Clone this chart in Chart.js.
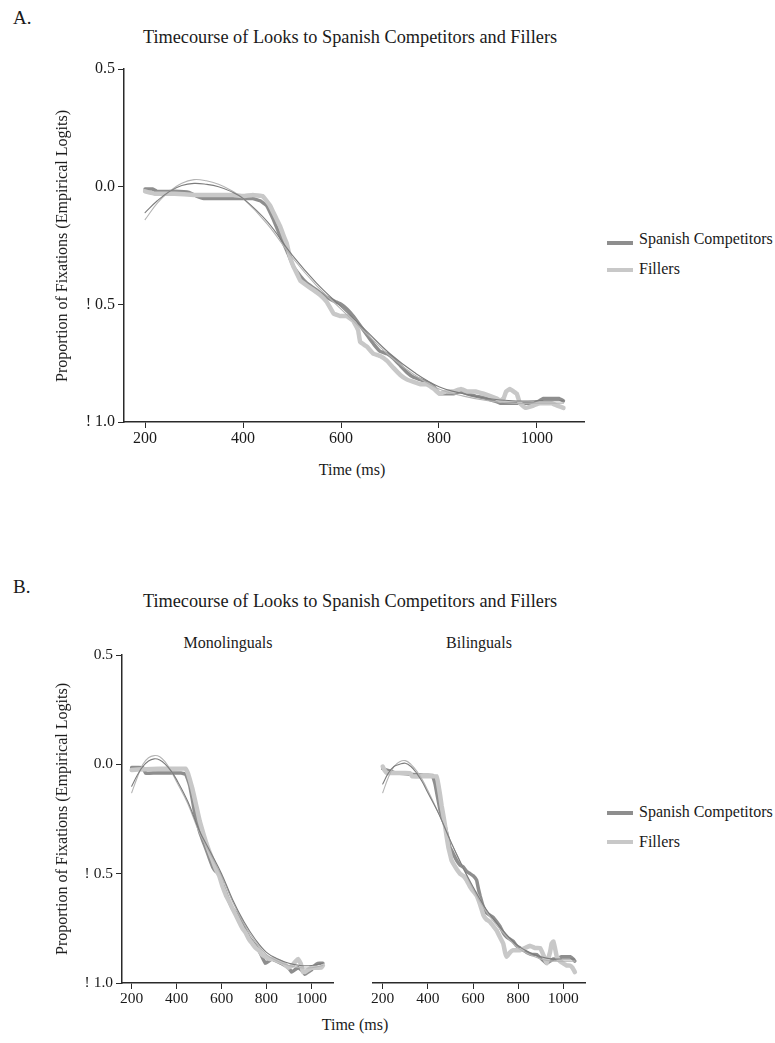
<!DOCTYPE html>
<html><head><meta charset="utf-8">
<script src="https://cdn.jsdelivr.net/npm/chart.js@4.4.1/dist/chart.umd.min.js"></script>
<style>
html,body{margin:0;padding:0;background:#fff}
body{width:775px;height:1043px;position:relative;overflow:hidden;font-family:'Liberation Serif','Times New Roman',serif;color:#1a1a1a}
.t{position:absolute;white-space:nowrap;line-height:1}
canvas{position:absolute}
.yt{position:absolute;white-space:nowrap;line-height:1;font-size:16px;transform:translate(-50%,-50%) rotate(-90deg)}
.ct{position:absolute;white-space:nowrap;line-height:1;transform:translateX(-50%)}
.sw{position:absolute;height:4px;width:26px}
</style></head><body>
<div class="t" style="left:13px;top:8px;font-size:19px">A.</div>
<div class="ct" style="left:350px;top:28px;font-size:18.3px">Timecourse of Looks to Spanish Competitors and Fillers</div>
<canvas id="cA" width="546" height="397" style="left:54px;top:55px;width:546px;height:397px"></canvas>
<div class="yt" style="left:62px;top:246px">Proportion of Fixations (Empirical Logits)</div>
<div class="ct" style="left:352px;top:462px;font-size:16px">Time (ms)</div>
<div class="sw" style="left:607px;top:241px;background:#8e8e8e"></div>
<div class="t" style="left:639px;top:231px;font-size:16px" id="legA1"></div>
<div class="sw" style="left:607px;top:268px;background:#c8c8c8"></div>
<div class="t" style="left:639px;top:261px;font-size:16px" id="legA2"></div>

<div class="t" style="left:13px;top:577px;font-size:19px">B.</div>
<div class="ct" style="left:350px;top:592px;font-size:18.3px">Timecourse of Looks to Spanish Competitors and Fillers</div>
<div class="ct" style="left:228px;top:635px;font-size:16px">Monolinguals</div>
<div class="ct" style="left:479px;top:635px;font-size:16px">Bilinguals</div>
<canvas id="cB1" width="286" height="375" style="left:51px;top:640px;width:286px;height:375px"></canvas>
<canvas id="cB2" width="232" height="375" style="left:363px;top:640px;width:232px;height:375px"></canvas>
<div class="yt" style="left:62px;top:819px">Proportion of Fixations (Empirical Logits)</div>
<div class="ct" style="left:355px;top:1017px;font-size:16px">Time (ms)</div>
<div class="sw" style="left:607px;top:811px;background:#8e8e8e"></div>
<div class="t" style="left:639px;top:804px;font-size:16px" id="legB1"></div>
<div class="sw" style="left:607px;top:840px;background:#c8c8c8"></div>
<div class="t" style="left:639px;top:834px;font-size:16px" id="legB2"></div>

<script>
const timeTicks = [200, 400, 600, 800, 1000];
const logitTicks = [0.5, 0, -0.5, -1];
const logitTickLabels = ['0.5', '0.0', '! 0.5', '! 1.0'];
const seriesNames = ['Spanish Competitors', 'Fillers'];

// Panel A (all participants)
const aComp = [[200,-0.01],[215,-0.01],[225,-0.02],[260,-0.02],[290,-0.025],[305,-0.04],[320,-0.05],[360,-0.05],[400,-0.05],[420,-0.05],[435,-0.06],[448,-0.08],[462,-0.14],[476,-0.21],[489,-0.27],[503,-0.34],[517,-0.38],[530,-0.41],[544,-0.43],[557,-0.45],[571,-0.47],[580,-0.48],[590,-0.49],[600,-0.50],[612,-0.52],[625,-0.55],[639,-0.59],[653,-0.63],[667,-0.67],[680,-0.70],[694,-0.71],[707,-0.73],[721,-0.76],[735,-0.79],[748,-0.81],[762,-0.82],[775,-0.83],[790,-0.85],[801,-0.88],[815,-0.88],[830,-0.88],[845,-0.87],[857,-0.88],[875,-0.89],[898,-0.90],[912,-0.91],[925,-0.92],[940,-0.92],[959,-0.92],[975,-0.92],[993,-0.92],[1005,-0.91],[1013,-0.90],[1025,-0.90],[1034,-0.90],[1045,-0.90],[1054,-0.91]];
const aFill = [[200,-0.02],[220,-0.03],[260,-0.03],[300,-0.035],[340,-0.035],[380,-0.035],[400,-0.04],[420,-0.035],[440,-0.04],[448,-0.06],[455,-0.08],[462,-0.11],[469,-0.14],[476,-0.17],[483,-0.21],[489,-0.24],[496,-0.30],[503,-0.34],[510,-0.37],[517,-0.40],[530,-0.42],[544,-0.44],[557,-0.46],[571,-0.49],[585,-0.54],[598,-0.55],[612,-0.55],[625,-0.57],[635,-0.61],[639,-0.66],[653,-0.68],[666,-0.71],[680,-0.72],[694,-0.74],[707,-0.77],[721,-0.80],[735,-0.82],[748,-0.83],[762,-0.84],[775,-0.84],[790,-0.86],[801,-0.88],[815,-0.87],[830,-0.87],[845,-0.86],[857,-0.87],[875,-0.87],[891,-0.88],[905,-0.89],[918,-0.90],[925,-0.91],[932,-0.90],[937,-0.87],[945,-0.86],[952,-0.87],[959,-0.88],[965,-0.92],[976,-0.94],[993,-0.93],[1005,-0.92],[1020,-0.92],[1030,-0.92],[1041,-0.93],[1054,-0.94]];
const aCompFit = [[200,-0.11],[225,-0.06],[250,-0.02],[275,0.005],[300,0.014],[325,0.01],[350,0.0],[375,-0.02],[400,-0.05],[450,-0.15],[500,-0.29],[550,-0.41],[600,-0.51],[650,-0.61],[700,-0.71],[750,-0.79],[800,-0.85],[850,-0.88],[900,-0.90],[950,-0.91],[1000,-0.91],[1054,-0.91]];
const aFillFit = [[200,-0.14],[225,-0.07],[250,-0.02],[275,0.015],[300,0.03],[325,0.025],[350,0.01],[375,-0.015],[400,-0.05],[450,-0.16],[500,-0.30],[550,-0.42],[600,-0.52],[650,-0.62],[700,-0.72],[750,-0.80],[800,-0.86],[850,-0.89],[900,-0.91],[950,-0.92],[1000,-0.92],[1054,-0.92]];

// Panel B, monolinguals
const monoComp = [[200,-0.015],[250,-0.015],[262,-0.04],[300,-0.04],[360,-0.04],[420,-0.04],[440,-0.045],[450,-0.07],[459,-0.10],[470,-0.16],[480,-0.22],[488,-0.25],[503,-0.31],[517,-0.35],[532,-0.39],[546,-0.43],[561,-0.47],[575,-0.49],[590,-0.50],[605,-0.55],[620,-0.59],[635,-0.63],[649,-0.66],[664,-0.68],[678,-0.70],[693,-0.73],[707,-0.76],[722,-0.79],[737,-0.81],[752,-0.83],[766,-0.85],[780,-0.88],[795,-0.91],[810,-0.90],[824,-0.89],[845,-0.90],[865,-0.91],[883,-0.92],[898,-0.93],[912,-0.95],[926,-0.94],[941,-0.93],[956,-0.94],[971,-0.96],[985,-0.95],[1000,-0.94],[1015,-0.92],[1029,-0.91],[1040,-0.91],[1051,-0.91]];
const monoFill = [[200,-0.026],[260,-0.022],[320,-0.02],[380,-0.02],[440,-0.02],[450,-0.04],[459,-0.07],[470,-0.11],[481,-0.16],[492,-0.21],[503,-0.26],[517,-0.31],[532,-0.36],[546,-0.40],[561,-0.44],[575,-0.48],[590,-0.51],[605,-0.56],[620,-0.60],[635,-0.63],[649,-0.66],[664,-0.69],[678,-0.72],[693,-0.75],[707,-0.77],[722,-0.80],[737,-0.82],[752,-0.84],[766,-0.85],[780,-0.87],[795,-0.88],[810,-0.89],[830,-0.89],[854,-0.90],[875,-0.91],[898,-0.93],[915,-0.92],[930,-0.90],[941,-0.89],[952,-0.91],[963,-0.95],[971,-0.95],[985,-0.94],[1000,-0.93],[1020,-0.93],[1044,-0.93],[1051,-0.92]];
const monoCompFit = [[200,-0.10],[225,-0.05],[250,-0.01],[275,0.015],[300,0.025],[325,0.02],[350,0.0],[375,-0.03],[400,-0.07],[450,-0.17],[500,-0.30],[550,-0.40],[600,-0.50],[650,-0.62],[700,-0.72],[750,-0.80],[800,-0.86],[850,-0.89],[900,-0.91],[950,-0.92],[1000,-0.92],[1051,-0.91]];
const monoFillFit = [[200,-0.13],[225,-0.06],[250,0.0],[275,0.03],[300,0.04],[325,0.035],[350,0.01],[375,-0.03],[400,-0.08],[450,-0.18],[500,-0.31],[550,-0.41],[600,-0.51],[650,-0.63],[700,-0.73],[750,-0.81],[800,-0.87],[850,-0.90],[900,-0.92],[950,-0.93],[1000,-0.93],[1051,-0.92]];

// Panel B, bilinguals
const biliComp = [[200,-0.02],[230,-0.03],[260,-0.04],[320,-0.045],[380,-0.05],[420,-0.05],[432,-0.09],[443,-0.15],[454,-0.21],[465,-0.25],[476,-0.28],[487,-0.33],[498,-0.38],[513,-0.41],[528,-0.44],[542,-0.46],[557,-0.47],[572,-0.49],[587,-0.50],[601,-0.51],[616,-0.53],[624,-0.57],[631,-0.60],[645,-0.65],[660,-0.68],[675,-0.69],[690,-0.70],[705,-0.72],[719,-0.74],[734,-0.77],[749,-0.79],[764,-0.80],[779,-0.81],[793,-0.83],[808,-0.84],[823,-0.85],[838,-0.86],[860,-0.87],[882,-0.87],[904,-0.89],[926,-0.91],[941,-0.90],[956,-0.89],[971,-0.89],[993,-0.88],[1015,-0.88],[1030,-0.88],[1044,-0.89],[1051,-0.90]];
const biliFill = [[200,-0.01],[210,-0.03],[218,-0.04],[260,-0.04],[321,-0.04],[330,-0.055],[380,-0.055],[439,-0.055],[446,-0.09],[454,-0.14],[461,-0.19],[468,-0.23],[476,-0.28],[483,-0.33],[491,-0.38],[498,-0.41],[505,-0.44],[516,-0.46],[528,-0.48],[542,-0.50],[557,-0.51],[572,-0.53],[587,-0.56],[601,-0.58],[616,-0.60],[631,-0.64],[646,-0.69],[660,-0.71],[675,-0.72],[690,-0.74],[705,-0.76],[719,-0.79],[734,-0.82],[742,-0.86],[749,-0.88],[764,-0.86],[779,-0.85],[793,-0.85],[808,-0.85],[830,-0.84],[852,-0.83],[875,-0.84],[897,-0.84],[911,-0.87],[926,-0.91],[941,-0.86],[948,-0.82],[956,-0.81],[963,-0.84],[971,-0.88],[985,-0.90],[1000,-0.91],[1015,-0.92],[1029,-0.92],[1040,-0.93],[1051,-0.95]];
const biliCompFit = [[200,-0.09],[225,-0.04],[250,-0.01],[275,0.0],[300,0.005],[325,-0.01],[350,-0.04],[375,-0.08],[400,-0.13],[450,-0.23],[500,-0.35],[550,-0.46],[600,-0.56],[650,-0.65],[700,-0.72],[750,-0.78],[800,-0.83],[850,-0.86],[900,-0.88],[950,-0.89],[1000,-0.89],[1051,-0.89]];
const biliFillFit = [[200,-0.13],[225,-0.06],[250,-0.01],[275,0.012],[300,0.017],[325,0.0],[350,-0.03],[375,-0.07],[400,-0.12],[450,-0.23],[500,-0.35],[550,-0.46],[600,-0.57],[650,-0.66],[700,-0.73],[750,-0.79],[800,-0.84],[850,-0.87],[900,-0.89],[950,-0.90],[1000,-0.90],[1051,-0.90]];

document.getElementById('legA1').textContent = seriesNames[0];
document.getElementById('legA2').textContent = seriesNames[1];
document.getElementById('legB1').textContent = seriesNames[0];
document.getElementById('legB2').textContent = seriesNames[1];

const FONT = "'Liberation Serif','Times New Roman',serif";
const DARK = '#8e8e8e', LIGHT = '#c8c8c8', DARKFIT = '#7c7c7c', LIGHTFIT = '#b4b4b4', AXIS = '#2a2a2a';

function toXY(arr){ return arr.map(p => ({x: p[0], y: p[1]})); }
function ds(label, arr, color, width, tension){
  return {label, data: toXY(arr), borderColor: color, backgroundColor: color, borderWidth: width,
    pointRadius: 0, tension: tension, fill: false, borderJoinStyle: 'round', borderCapStyle: 'round'};
}
function makeChart(id, comp, fill, compFit, fillFit, o){
  return new Chart(document.getElementById(id), {
    type: 'line',
    data: { datasets: [
      ds(seriesNames[0] + ' fit', compFit, DARKFIT, 1.1, 0.4),
      ds(seriesNames[1] + ' fit', fillFit, LIGHTFIT, 1.1, 0.4),
      ds(seriesNames[1], fill, LIGHT, 4.5, 0.05),
      ds(seriesNames[0], comp, DARK, 3.5, 0.05)
    ]},
    options: {
      responsive: false, animation: false, events: [],
      layout: { padding: o.pad },
      plugins: { legend: {display: false}, tooltip: {enabled: false}, title: {display: false} },
      scales: {
        x: { type: 'linear', min: 157, max: 1096,
          afterBuildTicks: s => { s.ticks = timeTicks.map(v => ({value: v})); },
          afterFit: s => { s.height = o.xh; },
          ticks: { font: {family: FONT, size: o.fs}, color: '#1a1a1a', padding: 1, maxRotation: 0, autoSkip: false, callback: v => String(v) },
          grid: { drawOnChartArea: false, drawTicks: true, tickLength: 6, color: AXIS, lineWidth: 1 },
          border: { display: true, color: AXIS, width: 1.5 }
        },
        y: { type: 'linear', min: -1, max: 0.5, display: o.showY,
          afterBuildTicks: s => { s.ticks = logitTicks.map(v => ({value: v})); },
          afterFit: s => { s.width = o.yw; },
          ticks: { font: {family: FONT, size: o.fs}, color: '#1a1a1a', padding: 3, autoSkip: false,
            callback: v => logitTickLabels[logitTicks.findIndex(t => Math.abs(t - v) < 1e-9)] },
          grid: { drawOnChartArea: false, drawTicks: true, tickLength: 6, color: AXIS, lineWidth: 1 },
          border: { display: true, color: AXIS, width: 1.5 }
        }
      }
    }
  });
}
makeChart('cA', aComp, aFill, aCompFit, aFillFit, {pad: {left: 0, top: 14, right: 16, bottom: 0}, xh: 30, yw: 70, fs: 16, showY: true});
makeChart('cB1', monoComp, monoFill, monoCompFit, monoFillFit, {pad: {left: 0, top: 15, right: 4, bottom: 0}, xh: 32, yw: 71, fs: 15.5, showY: true});
makeChart('cB2', biliComp, biliFill, biliCompFit, biliFillFit, {pad: {left: 10, top: 15, right: 10, bottom: 0}, xh: 32, yw: 0, fs: 15.5, showY: false});
</script>
</body></html>
